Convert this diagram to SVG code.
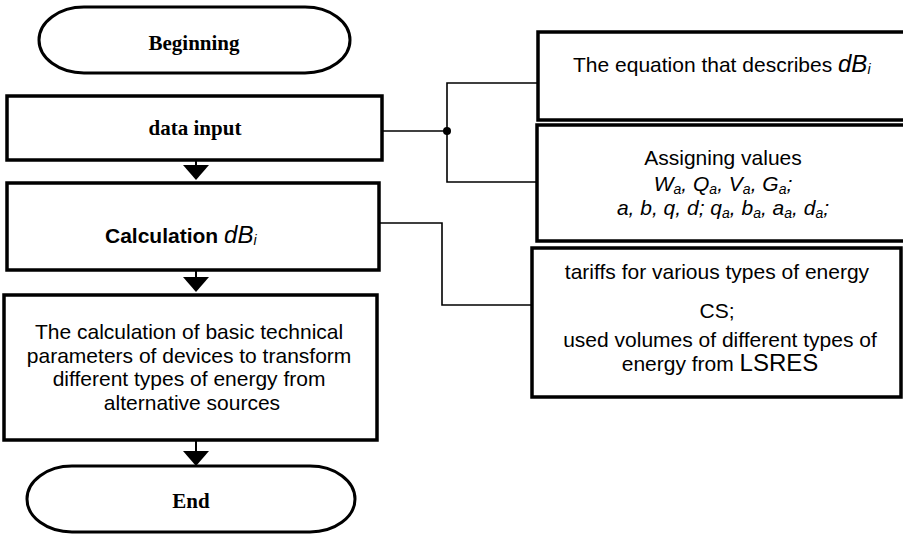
<svg xmlns="http://www.w3.org/2000/svg" width="903" height="534" viewBox="0 0 903 534">
<style>
.box{fill:#fff;stroke:#000;stroke-width:3.5}
.term{fill:#fff;stroke:#000;stroke-width:3}
.ln{fill:none;stroke:#000;stroke-width:1.6}
.stem{fill:none;stroke:#000;stroke-width:2}
.serif{font-family:"Liberation Serif","Times New Roman",serif;font-weight:bold;font-size:21px;fill:#000}
.sans{font-family:"Liberation Sans",Arial,sans-serif;font-size:21px;fill:#000}
.b{font-weight:bold}
.it{font-style:italic}
.big{font-style:italic;font-size:24px}
.sub{font-size:14px;font-style:italic}
</style>
<defs>
<marker id="arr" viewBox="0 0 15 26" refX="0" refY="13" markerWidth="15" markerHeight="26" markerUnits="userSpaceOnUse" orient="auto">
<path d="M0,0 L15,13 L0,26 z" fill="#000"/>
</marker>
</defs>
<rect width="903" height="534" fill="#fff"/>
<g id="connectors">
<line class="stem" x1="196" y1="160" x2="196" y2="165" marker-end="url(#arr)"/>
<line class="stem" x1="196" y1="270" x2="196" y2="277" marker-end="url(#arr)"/>
<line class="stem" x1="196" y1="440" x2="196" y2="451" marker-end="url(#arr)"/>
<polyline class="ln" points="382,131 447,131"/>
<polyline class="ln" points="538,83 447,83 447,182 537,182"/>
<circle cx="447" cy="131" r="4" fill="#000"/>
<polyline class="ln" points="379,223 442,223 442,305 532,305"/>
</g>
<g id="beginning">
<rect class="term" x="39" y="7" width="311" height="66" rx="45" ry="33"/>
<text class="serif" x="194" y="50" text-anchor="middle">Beginning</text>
</g>
<g id="data-input">
<rect class="box" x="7" y="96" width="375" height="64"/>
<text class="serif" x="195" y="135" text-anchor="middle">data input</text>
</g>
<g id="calculation">
<rect class="box" x="7" y="183" width="372" height="87"/>
<text class="sans" x="105" y="243"><tspan class="b">Calculation </tspan><tspan class="big">dB</tspan><tspan class="sub" dy="2">i</tspan></text>
</g>
<g id="basic-parameters">
<rect class="box" x="4" y="295" width="373" height="145"/>
<text class="sans" text-anchor="middle">
<tspan x="192" y="339">The calculation of basic technical</tspan>
<tspan x="192" y="363">parameters of devices to transform</tspan>
<tspan x="192" y="386">different types of energy from</tspan>
<tspan x="192" y="410">alternative sources</tspan>
</text>
</g>
<g id="end">
<rect class="term" x="27" y="466" width="328" height="66" rx="45" ry="33"/>
<text class="serif" x="191" y="508" text-anchor="middle">End</text>
</g>
<g id="equation">
<rect class="box" x="538" y="32" width="380" height="88"/>
<text class="sans" x="573" y="72">The equation that describes <tspan class="big">dB</tspan><tspan class="sub" dy="2">i</tspan></text>
</g>
<g id="assigning">
<rect class="box" x="537" y="125" width="380" height="116"/>
<text class="sans" x="723" y="165" text-anchor="middle">Assigning values</text>
<text class="sans it" x="723" y="191" text-anchor="middle">W<tspan class="sub" dy="3">a</tspan><tspan dy="-3">, Q</tspan><tspan class="sub" dy="3">a</tspan><tspan dy="-3">, V</tspan><tspan class="sub" dy="3">a</tspan><tspan dy="-3">, G</tspan><tspan class="sub" dy="3">a</tspan><tspan dy="-3">;</tspan></text>
<text class="sans it" x="723" y="215" text-anchor="middle">a, b, q, d; q<tspan class="sub" dy="3">a</tspan><tspan dy="-3">, b</tspan><tspan class="sub" dy="3">a</tspan><tspan dy="-3">, a</tspan><tspan class="sub" dy="3">a</tspan><tspan dy="-3">, d</tspan><tspan class="sub" dy="3">a</tspan><tspan dy="-3">;</tspan></text>
</g>
<g id="tariffs">
<rect class="box" x="532" y="248" width="369" height="149"/>
<text class="sans" x="717" y="279" text-anchor="middle">tariffs for various types of energy</text>
<text class="sans" x="717" y="318" text-anchor="middle">CS;</text>
<text class="sans" x="720" y="347" text-anchor="middle">used volumes of different types of</text>
<text class="sans" x="720" y="371" text-anchor="middle">energy from <tspan style="font-size:24px">LSRES</tspan></text>
</g>
</svg>
